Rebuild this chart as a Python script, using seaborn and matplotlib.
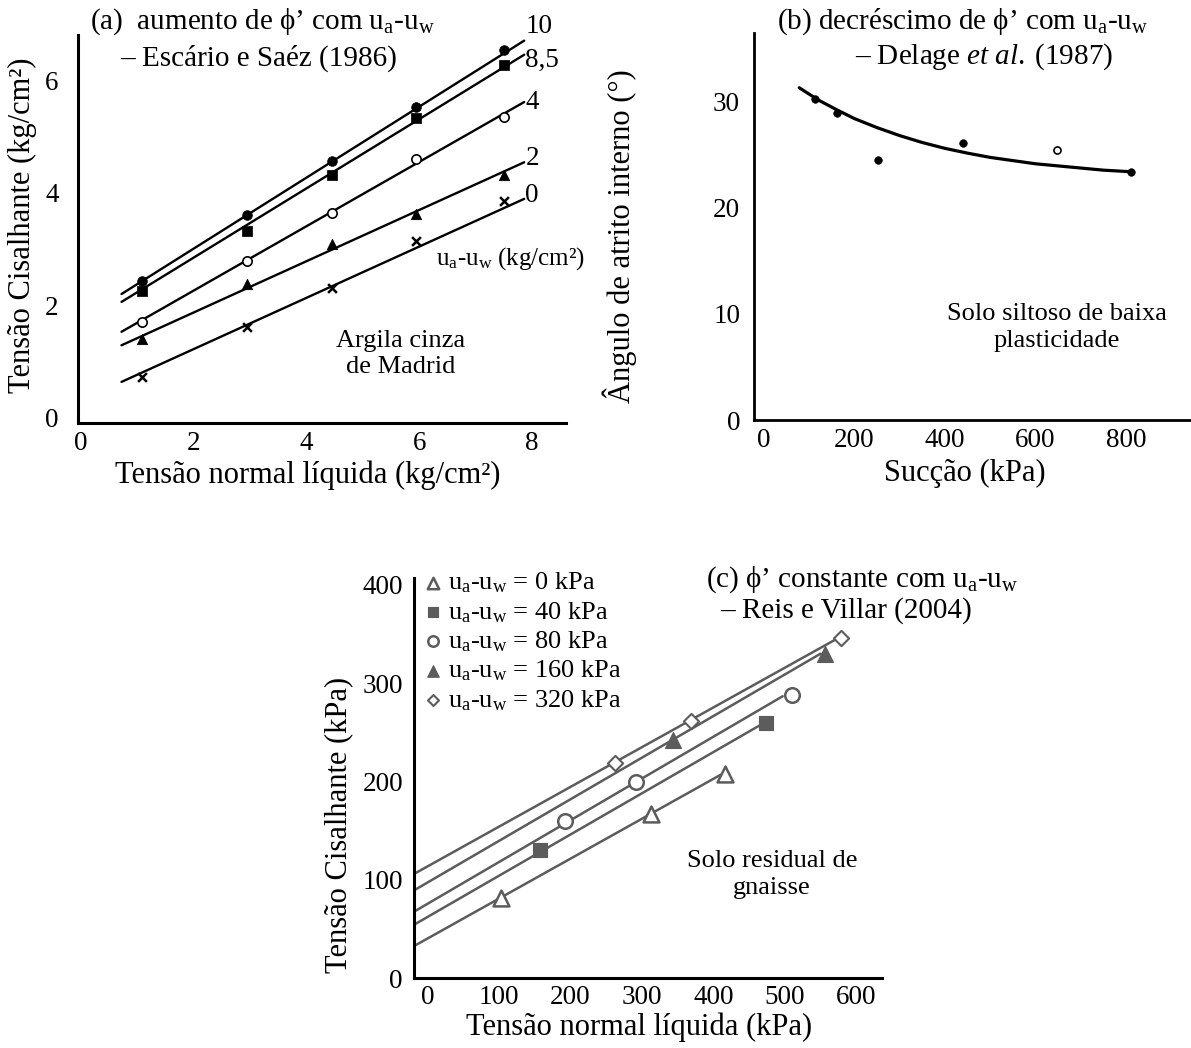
import numpy as np
import pandas as pd
import matplotlib
matplotlib.use("Agg")
import matplotlib.pyplot as plt
import seaborn as sns

# ---------------- data: panel (a) ----------------
a_x = [1.1, 2.95, 4.45, 5.95, 7.5]
a_s10 = [2.43, 3.60, 4.56, 5.52, 6.53]
a_s85 = [2.25, 3.32, 4.32, 5.33, 6.27]
a_s4 = [1.70, 2.78, 3.64, 4.60, 5.34]
a_s2 = [1.40, 2.37, 3.08, 3.62, 4.31]
a_s0 = [0.73, 1.62, 2.31, 3.15, 3.86]
a_names = ["10", "8,5", "4", "2", "0"]
a_fit_x = [0.73, 7.86]
a_fit10 = [2.20, 6.70]
a_fit85 = [2.06, 6.45]
a_fit4 = [1.53, 5.61]
a_fit2 = [1.29, 4.54]
a_fit0 = [0.64, 3.89]
a_label_y = [6.95, 6.35, 5.60, 4.60, 3.95]

# ---------------- data: panel (b) ----------------
b_x = [113, 161, 252, 440, 647, 811]
b_y = [30.2, 28.9, 24.5, 26.1, 25.4, 23.3]
b_open = [False, False, False, False, True, False]
b_curve_x = [78, 120, 160, 200, 250, 300, 350, 400, 450, 500, 550, 600, 650, 700, 750, 811]
b_curve_y = [31.25, 30.1, 29.2, 28.35, 27.5, 26.75, 26.1, 25.55, 25.1, 24.7, 24.4,
             24.1, 23.9, 23.7, 23.5, 23.35]

# ---------------- data: panel (c) ----------------
c_s0_x = [103, 313, 416]
c_s0_y = [81.7, 166.7, 207.3]
c_s40_x = [158, 474]
c_s40_y = [130, 259]
c_s80_x = [192, 292, 510]
c_s80_y = [159.3, 199.3, 288.3]
c_s160_x = [344, 556]
c_s160_y = [241.7, 330]
c_s320_x = [262, 369, 578]
c_s320_y = [219, 261.7, 346]
c_suction = ["0", "40", "80", "160", "320"]
c_fit_x0 = [-17, -17, -17, -17, -17]
c_fit_x1 = [410, 464, 497, 550, 570]
c_fit_y0 = [33.3, 55, 68.3, 90, 106.7]
c_fit_y1 = [206.7, 256.7, 286.7, 330, 344]

# ---------------- style ----------------
sns.set_theme(style="white")
plt.rcParams["font.family"] = ["Liberation Serif", "DejaVu Serif"]
plt.rcParams["mathtext.fontset"] = "custom"
plt.rcParams["mathtext.rm"] = "Liberation Serif"
plt.rcParams["mathtext.it"] = "Liberation Serif:italic"
plt.rcParams["mathtext.bf"] = "Liberation Serif:bold"
plt.rcParams["text.color"] = "black"
plt.rcParams["axes.labelcolor"] = "black"
plt.rcParams["xtick.color"] = "black"
plt.rcParams["ytick.color"] = "black"

FS = 22      # axis labels
TKS = 19.5   # tick labels
TTL = 21     # panel titles
ANN = 19     # annotations
W, H = 1191, 1048
fig = plt.figure(figsize=(W / 100, H / 100), dpi=100)
fig.patch.set_facecolor("white")

UAW = r"$\mathrm{u_a}$-$\mathrm{u_w}$"


def rect(l, r, t, b):
    return [l / W, 1 - b / H, (r - l) / W, (b - t) / H]


def style_axes(ax, lw=2.2):
    for s in ["top", "right"]:
        ax.spines[s].set_visible(False)
    for s in ["left", "bottom"]:
        ax.spines[s].set_linewidth(lw)
        ax.spines[s].set_color("black")
    ax.tick_params(length=0, labelsize=TKS, colors="black")
    ax.grid(False)
    ax.set_facecolor("white")


# ================= panel (a) =================
ax = fig.add_axes(rect(78, 566, 35, 423))
style_axes(ax)
fits = [a_fit10, a_fit85, a_fit4, a_fit2, a_fit0]
for fy in fits:
    sns.lineplot(x=a_fit_x, y=fy, ax=ax, color="black", lw=1.7)
sns.scatterplot(x=a_x, y=a_s10, ax=ax, marker="o", s=48, color="black", edgecolor="black", zorder=3)
sns.scatterplot(x=a_x, y=a_s85, ax=ax, marker="s", s=42, color="black", edgecolor="black", zorder=3)
sns.scatterplot(x=a_x, y=a_s4, ax=ax, marker="o", s=45, color="white", edgecolor="black", linewidth=1.2, zorder=3)
sns.scatterplot(x=a_x, y=a_s2, ax=ax, marker="^", s=55, color="black", edgecolor="black", zorder=3)
sns.scatterplot(x=a_x, y=a_s0, ax=ax, marker="x", s=40, color="black", linewidth=1.8, zorder=3)
ax.set_xlim(-0.04, 8.6)
ax.set_ylim(-0.09, 6.8)
ax.set_xticks([0, 2, 4, 6, 8])
ax.set_yticks([0, 2, 4, 6])
ax.tick_params(axis="x", pad=6)
ax.tick_params(axis="y", pad=14)
ax.set_xlabel("Tensão normal líquida (kg/cm²)", fontsize=FS)
ax.xaxis.set_label_coords(0.471, -0.097)
ax.set_ylabel("Tensão Cisalhante (kg/cm²)", fontsize=FS)
ax.yaxis.set_label_coords(-0.084, 0.51)
for name, yy in zip(a_names, a_label_y):
    ax.text(7.88, yy, name, fontsize=TKS, ha="left", va="center", clip_on=False)
ax.text(6.30, 2.83, UAW + " (kg/cm²)", fontsize=18, ha="left", va="center")
ax.text(5.67, 1.14, "Argila cinza\nde Madrid", fontsize=ANN, ha="center", va="center",
        linespacing=1.25)
fig.text(90 / W, 1 - 22 / H, "(a)  aumento de ϕ’ com " + UAW, fontsize=TTL, ha="left", va="center")
fig.text(120 / W, 1 - 58 / H, "– Escário e Saéz (1986)", fontsize=TTL, ha="left", va="center")

# ================= panel (b) =================
ax = fig.add_axes(rect(754, 1191, 33, 420))
style_axes(ax, lw=2.0)
sns.lineplot(x=b_curve_x, y=b_curve_y, ax=ax, color="black", lw=2.3)
bdf = pd.DataFrame({"x": b_x, "y": b_y, "open": b_open})
sns.scatterplot(data=bdf[~bdf["open"]], x="x", y="y", ax=ax, marker="o", s=30,
                color="black", edgecolor="black", zorder=3)
sns.scatterplot(data=bdf[bdf["open"]], x="x", y="y", ax=ax, marker="o", s=26,
                color="white", edgecolor="black", linewidth=1.2, zorder=3)
ax.set_xlim(-22, 944)
ax.set_ylim(0, 36.4)
ax.set_xticks([0, 200, 400, 600, 800])
ax.set_yticks([0, 10, 20, 30])
ax.tick_params(axis="x", pad=6)
ax.tick_params(axis="y", pad=10)
ax.set_xlabel("Sucção (kPa)", fontsize=FS)
ax.xaxis.set_label_coords(0.483, -0.100)
ax.set_ylabel("Ângulo de atrito interno (°)", fontsize=FS)
ax.yaxis.set_label_coords(-0.268, 0.475)
ax.text(648, 8.7, "Solo siltoso de baixa\nplasticidade", fontsize=ANN, ha="center",
        va="center", linespacing=1.3)
fig.text(777 / W, 1 - 22 / H, "(b) decréscimo de ϕ’ com " + UAW, fontsize=TTL, ha="left", va="center")
fig.text(855 / W, 1 - 57 / H, r"– Delage $\mathit{et\ al.}\;$(1987)", fontsize=TTL, ha="left", va="center")

# ================= panel (c) =================
GRAY = "#5c5c5c"
ax = fig.add_axes(rect(414, 882, 578, 978))
style_axes(ax, lw=2.2)
for x0, x1, y0, y1 in zip(c_fit_x0, c_fit_x1, c_fit_y0, c_fit_y1):
    sns.lineplot(x=[x0, x1], y=[y0, y1], ax=ax, color=GRAY, lw=1.8)
sns.scatterplot(x=c_s0_x, y=c_s0_y, ax=ax, marker="^", s=130, color="white", edgecolor=GRAY,
                linewidth=1.8, zorder=3, label=UAW + " = " + c_suction[0] + " kPa")
sns.scatterplot(x=c_s40_x, y=c_s40_y, ax=ax, marker="s", s=105, color=GRAY, edgecolor=GRAY,
                zorder=3, label=UAW + " = " + c_suction[1] + " kPa")
sns.scatterplot(x=c_s80_x, y=c_s80_y, ax=ax, marker="o", s=110, color="white", edgecolor=GRAY,
                linewidth=1.8, zorder=3, label=UAW + " = " + c_suction[2] + " kPa")
sns.scatterplot(x=c_s160_x, y=c_s160_y, ax=ax, marker="^", s=130, color=GRAY, edgecolor=GRAY,
                zorder=3, label=UAW + " = " + c_suction[3] + " kPa")
sns.scatterplot(x=c_s320_x, y=c_s320_y, ax=ax, marker="D", s=60, color="white", edgecolor=GRAY,
                linewidth=1.5, zorder=3, label=UAW + " = " + c_suction[4] + " kPa")
ax.set_xlim(-19, 636)
ax.set_ylim(0, 407)
ax.set_xticks([0, 100, 200, 300, 400, 500, 600])
ax.set_yticks([0, 100, 200, 300, 400])
ax.tick_params(axis="x", pad=5)
ax.tick_params(axis="y", pad=8)
ax.set_xlabel("Tensão normal líquida (kPa)", fontsize=FS)
ax.xaxis.set_label_coords(0.481, -0.085)
ax.set_ylabel("Tensão Cisalhante (kPa)", fontsize=FS)
ax.yaxis.set_label_coords(-0.130, 0.3825)
leg = ax.legend(loc="upper left", bbox_to_anchor=(-0.012, 1.045), frameon=False,
                fontsize=19, handletextpad=0.0, labelspacing=0.18,
                borderaxespad=0.0, handlelength=1.1, markerscale=0.72)
for t in leg.get_texts():
    t.set_color("black")
ax.text(482, 105, "Solo residual de\ngnaisse", fontsize=ANN, ha="center", va="center",
        linespacing=1.3)
fig.text(706 / W, 1 - 580 / H, "(c) ϕ’ constante com " + UAW, fontsize=TTL, ha="left", va="center")
fig.text(720 / W, 1 - 611 / H, "– Reis e Villar (2004)", fontsize=TTL, ha="left", va="center")

fig.savefig("out.png", dpi=100, facecolor="white")
